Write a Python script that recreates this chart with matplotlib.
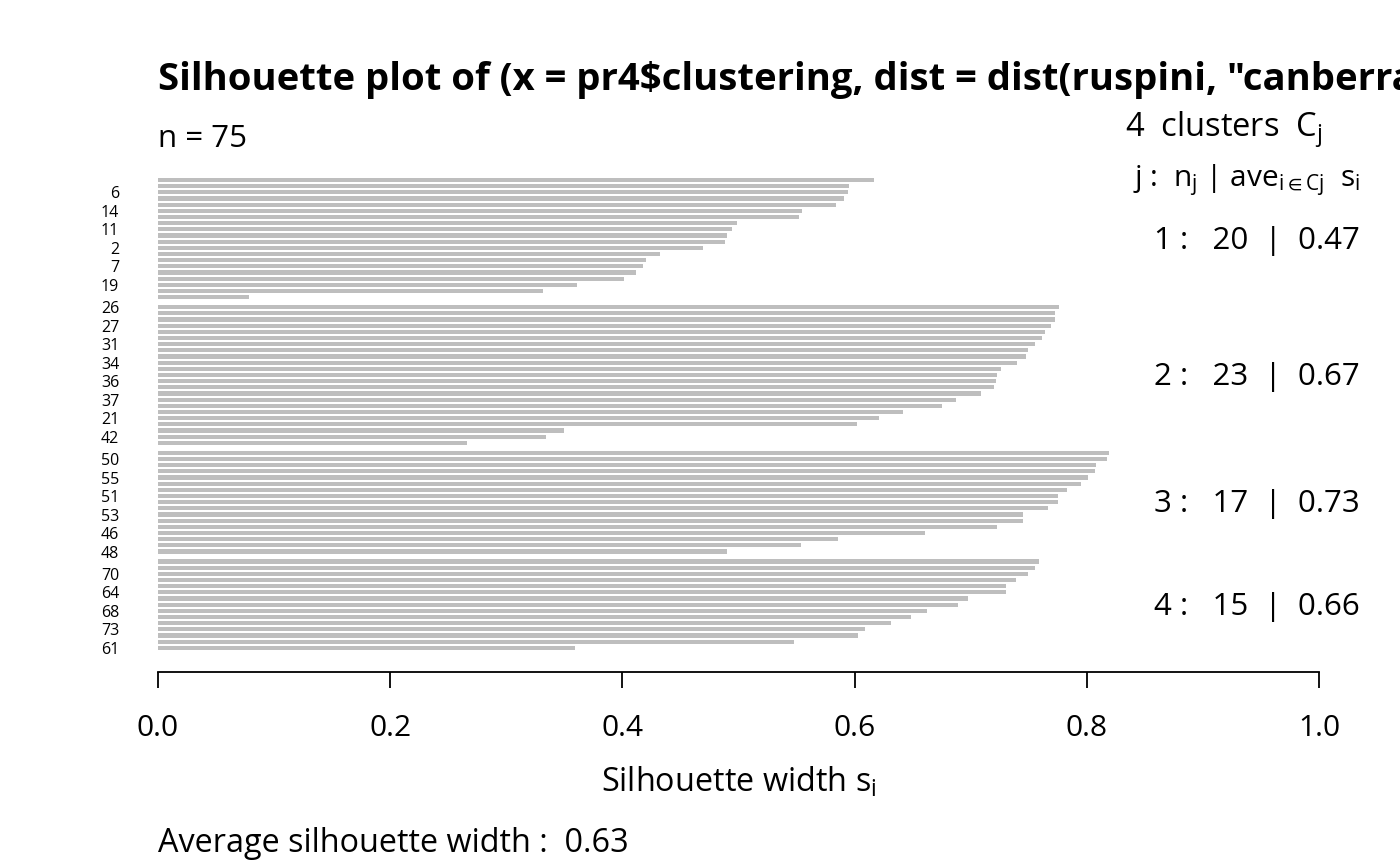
import matplotlib
matplotlib.use("Agg")
import matplotlib.pyplot as plt

plt.rcParams['font.family'] = ['Open Sans', 'Noto Sans', 'DejaVu Sans']
plt.rcParams['mathtext.fontset'] = 'custom'
plt.rcParams['mathtext.rm'] = 'Open Sans'
plt.rcParams['mathtext.it'] = 'Open Sans:italic'

# silhouette widths per cluster, sorted as drawn top-down
cl1_vals = [0.617, 0.595, 0.594, 0.591, 0.584, 0.555, 0.552, 0.499, 0.494, 0.490,
            0.488, 0.469, 0.432, 0.420, 0.418, 0.412, 0.401, 0.361, 0.332, 0.078]
cl2_vals = [0.776, 0.773, 0.773, 0.769, 0.764, 0.761, 0.755, 0.749, 0.748, 0.740,
            0.726, 0.723, 0.722, 0.720, 0.709, 0.687, 0.675, 0.642, 0.621, 0.602,
            0.350, 0.334, 0.266]
cl3_vals = [0.819, 0.817, 0.808, 0.807, 0.801, 0.795, 0.783, 0.775, 0.775, 0.767,
            0.745, 0.745, 0.723, 0.661, 0.586, 0.554, 0.490]
cl4_vals = [0.759, 0.755, 0.749, 0.739, 0.730, 0.730, 0.698, 0.689, 0.662, 0.649,
            0.631, 0.609, 0.603, 0.548, 0.359]

# observation names that survive on the axis ('' = not shown)
cl1_names = ['', '', '6', '', '', '14', '', '', '11', '', '', '2', '', '', '7', '', '', '19', '', '']
cl2_names = ['26', '', '', '27', '', '', '31', '', '', '34', '', '', '36', '', '', '37', '', '',
             '21', '', '', '42', '']
cl3_names = ['', '50', '', '', '55', '', '', '51', '', '', '53', '', '', '46', '', '', '48']
cl4_names = ['', '', '70', '', '', '64', '', '', '68', '', '', '73', '', '', '61']

cluster_avg = [0.47, 0.67, 0.73, 0.66]
overall_avg = 0.63
n_total = 75

clusters = [cl1_vals, cl2_vals, cl3_vals, cl4_vals]
names = [cl1_names, cl2_names, cl3_names, cl4_names]

W, H = 1400, 866
fig = plt.figure(figsize=(W / 100, H / 100), dpi=100)
ax = fig.add_axes([158 / W, 1 - 672 / H, (1319 - 158) / W, (672 - 160) / H])

gap = 0.63
pos = 0.0
ypos, widths, labels, centers = [], [], [], []
for vals, nm in zip(clusters, names):
    start = pos
    for v, n in zip(vals, nm):
        ypos.append(pos)
        widths.append(v)
        labels.append(n)
        pos += 1
    centers.append((start + pos - 1) / 2)
    pos += gap

ax.barh(ypos, widths, height=0.68, color='#bebebe', edgecolor='none')
ax.set_xlim(0, 1)
ax.set_ylim(79.8, -3.24)

for s in ['top', 'right', 'left']:
    ax.spines[s].set_visible(False)
ax.spines['bottom'].set_linewidth(1.3)

ax.set_xticks([0, 0.2, 0.4, 0.6, 0.8, 1.0])
ax.set_xticklabels(['0.0', '0.2', '0.4', '0.6', '0.8', '1.0'], fontsize=21.5)
ax.tick_params(axis='x', length=11.5, width=1.3, pad=19)

show = [i for i, l in enumerate(labels) if l]
ax.set_yticks([ypos[i] for i in show])
ax.set_yticklabels([labels[i] for i in show], fontsize=11.5)
ax.tick_params(axis='y', length=0, pad=28)

ax.set_xlabel(r'Silhouette width $\mathregular{s_i}$', fontsize=23.3, labelpad=16)

def px(x, y):
    return x / W, 1 - y / H

# title runs past the right edge, as in the original
fig.text(*px(158, 90), 'Silhouette plot of (x = pr4\\$clustering, dist = dist(ruspini, "canberra"))',
         fontsize=27.5, fontweight='bold', va='baseline', ha='left')
fig.text(*px(158, 147), f'n = {n_total}', fontsize=22.5, va='baseline', ha='left')
fig.text(*px(1125, 137), r'4  clusters  $\mathregular{C_j}$', fontsize=23.5, va='baseline', ha='left')
fig.text(*px(1133, 186), r'j :  $\mathregular{n_j}$ | $\mathregular{ave_{i\in Cj}}$  $\mathregular{s_i}$',
         fontsize=21.5, va='baseline', ha='left')

# per-cluster summaries, placed at the cluster centres via the data transform
for j, (vals, c) in enumerate(zip(clusters, centers)):
    ypix = ax.transData.transform((0, c))[1] - 10
    fig.text(1360 / W, ypix / H, f'{j + 1} :   {len(vals)}  |  {cluster_avg[j]:.2f}',
             fontsize=22.5, va='baseline', ha='right')

fig.text(*px(158, 852), f'Average silhouette width :  {overall_avg:.2f}',
         fontsize=23.3, va='baseline', ha='left')

fig.savefig('out.png', dpi=100)
